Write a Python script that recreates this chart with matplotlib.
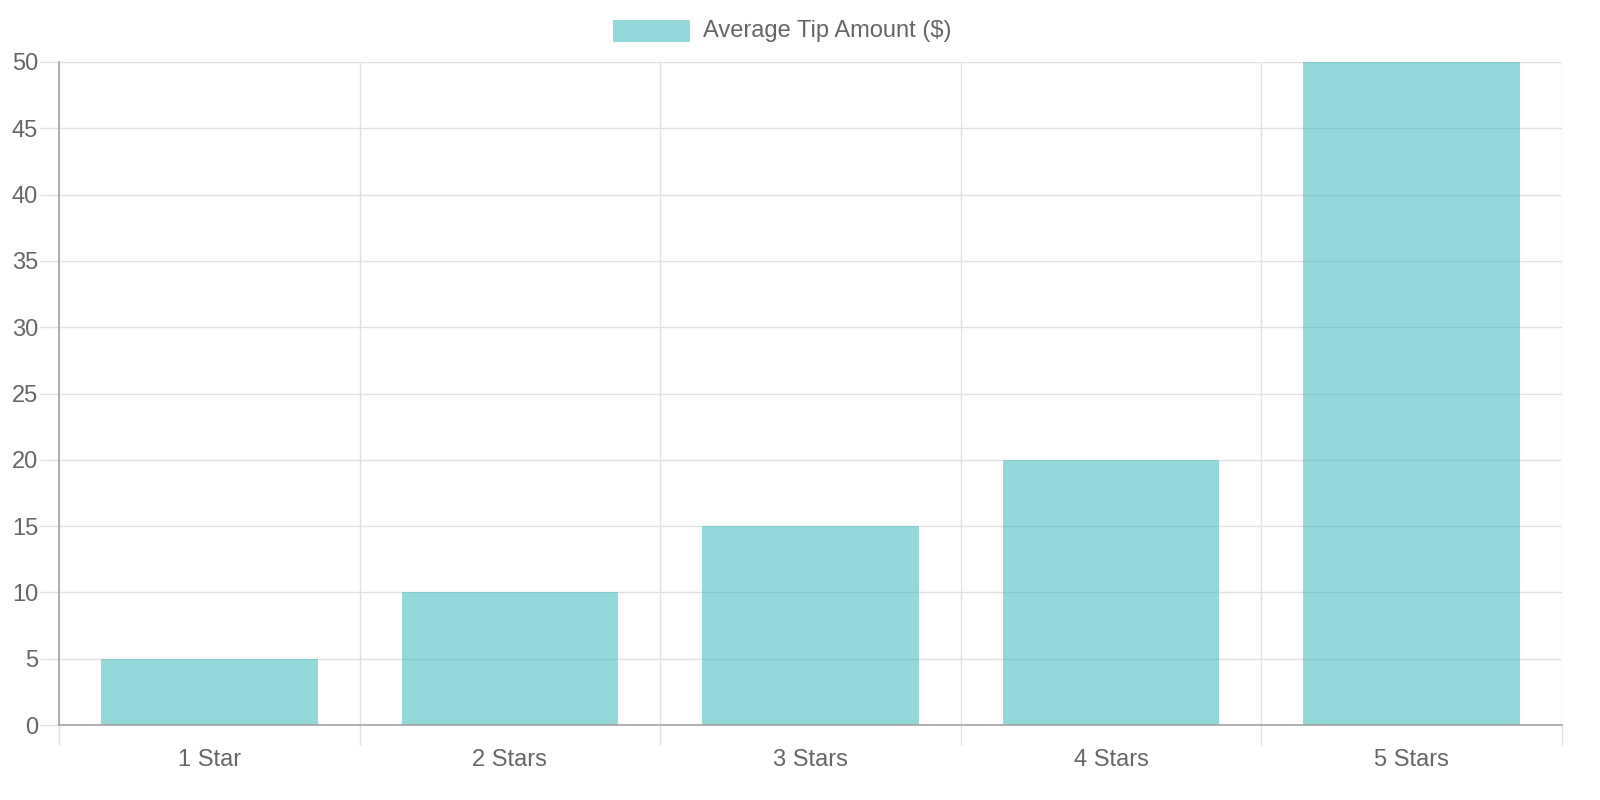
import numpy as np
import matplotlib
matplotlib.use("Agg")
import matplotlib.pyplot as plt
from matplotlib.patches import Rectangle

categories = ["1 Star", "2 Stars", "3 Stars", "4 Stars", "5 Stars"]
avg_tip = [5, 10, 15, 20, 50]
series_label = "Average Tip Amount ($)"
y_ticks = [0, 5, 10, 15, 20, 25, 30, 35, 40, 45, 50]

BAR = (75 / 255, 192 / 255, 192 / 255, 0.6)
GRID = "#e1e1e1"
AXIS = "#a3a3a3"
TEXT = "#666666"

plt.rcParams["font.family"] = ["Liberation Sans", "DejaVu Sans"]

fig = plt.figure(figsize=(16, 8), dpi=100)
ax = fig.add_axes([59 / 1600, 75 / 800, 1503 / 1600, 663 / 800])

x = np.arange(len(categories))
ax.bar(x, avg_tip, width=0.72, color=BAR, zorder=2)

ax.set_xlim(-0.5, len(categories) - 0.5)
ax.set_ylim(0, 50)

# boundaries carry grid lines and long tick marks; centres carry the labels
ax.set_xticks(np.arange(-0.5, len(categories), 1.0))
ax.set_xticklabels([])
ax.set_xticks(x, minor=True)
ax.set_xticklabels(categories, minor=True)
ax.tick_params(axis="x", which="major", length=14.4, width=1, color=GRID)
ax.tick_params(axis="x", which="minor", length=0, pad=17.5, labelsize=17, labelcolor=TEXT)

ax.set_yticks(y_ticks)
ax.tick_params(axis="y", length=13.5, width=1, color=GRID, pad=1.5,
               labelsize=17, labelcolor=TEXT)

ax.grid(True, which="major", color=GRID, lw=1, zorder=0)
ax.set_axisbelow(True)

for s in ("top", "right"):
    ax.spines[s].set_visible(False)
for s in ("left", "bottom"):
    ax.spines[s].set_color(AXIS)
    ax.spines[s].set_linewidth(1.2)
    ax.spines[s].set_zorder(3)

# legend, drawn like the chart.js box + label
fig.patches.append(Rectangle((613 / 1600, 1 - 42 / 800), 77 / 1600, 22 / 800,
                             transform=fig.transFigure, facecolor=BAR,
                             edgecolor="none"))
fig.text(703 / 1600, 1 - 31 / 800, series_label, ha="left", va="center",
         fontsize=17, color=TEXT)

fig.savefig("out.png", dpi=100)
